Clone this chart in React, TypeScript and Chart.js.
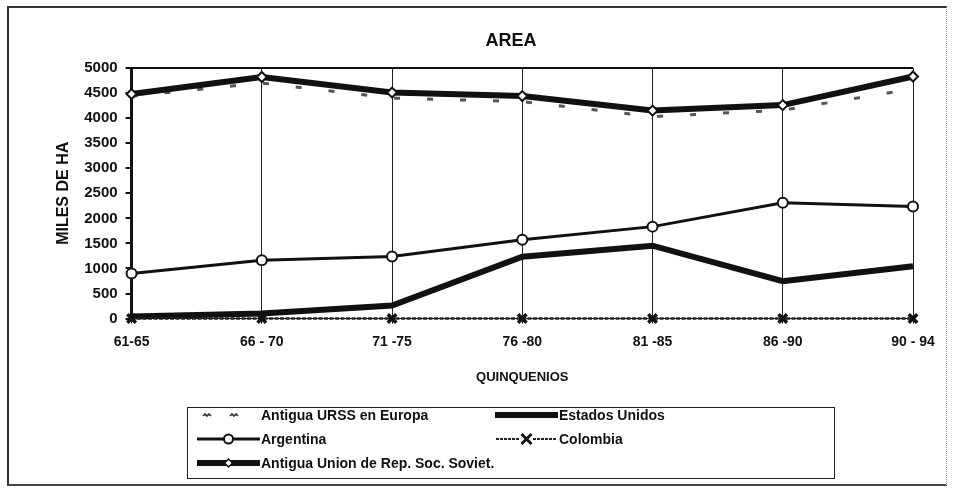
import React, { useEffect, useRef } from "react";
import { Chart, registerables } from "chart.js";

Chart.register(...registerables);

const categories = ["61-65", "66 - 70", "71 -75", "76 -80", "81 -85", "86 -90", "90 - 94"];
const urssEuropa = [4440, 4700, 4400, 4330, 4030, 4160, 4580];
const estadosUnidos = [40, 100, 260, 1235, 1455, 745, 1045];
const argentina = [900, 1165, 1240, 1575, 1835, 2310, 2235];
const colombia = [0, 0, 0, 0, 0, 0, 0];
const antiguaUnion = [4480, 4820, 4510, 4440, 4150, 4260, 4830];
const yMin = 0;
const yMax = 5000;
const yStep = 500;

const FONT = "'Liberation Sans', Arial, Helvetica, sans-serif";

function LegendSample({ kind }: { kind: string }) {
  const w = 63;
  const h = 14;
  const c = h / 2;
  if (kind === "europa") {
    return (
      <svg width={w} height={h}>
        <path d={`M6 ${c + 1} l2 -2 l2 2 l2 -2 l2 2`} stroke="#333" strokeWidth={1.6} fill="none" />
        <path d={`M33 ${c + 1} l2 -2 l2 2 l2 -2 l2 2`} stroke="#333" strokeWidth={1.6} fill="none" />
      </svg>
    );
  }
  if (kind === "eeuu") {
    return (
      <svg width={w} height={h}>
        <line x1={1} y1={c} x2={w - 1} y2={c} stroke="#111" strokeWidth={6} strokeLinecap="round" />
      </svg>
    );
  }
  if (kind === "argentina") {
    return (
      <svg width={w} height={h}>
        <line x1={1} y1={c} x2={w - 1} y2={c} stroke="#111" strokeWidth={3} strokeLinecap="round" />
        <circle cx={w / 2} cy={c} r={4.5} fill="#fff" stroke="#111" strokeWidth={2} />
      </svg>
    );
  }
  if (kind === "colombia") {
    return (
      <svg width={w} height={h}>
        <line x1={1} y1={c} x2={24} y2={c} stroke="#222" strokeWidth={2} strokeDasharray="3 1" />
        <line x1={38} y1={c} x2={w - 1} y2={c} stroke="#222" strokeWidth={2} strokeDasharray="3 1" />
        <path d={`M${w / 2 - 5} ${c - 5} L${w / 2 + 5} ${c + 5} M${w / 2 + 5} ${c - 5} L${w / 2 - 5} ${c + 5}`} stroke="#111" strokeWidth={3} />
      </svg>
    );
  }
  return (
    <svg width={w} height={h}>
      <line x1={1} y1={c} x2={w - 1} y2={c} stroke="#111" strokeWidth={6} strokeLinecap="round" />
      <path d={`M${w / 2} ${c - 4} L${w / 2 + 4} ${c} L${w / 2} ${c + 4} L${w / 2 - 4} ${c} Z`} fill="#fff" stroke="#111" strokeWidth={1.5} />
    </svg>
  );
}

function LegendItem({ left, top, kind, label }: { left: number; top: number; kind: string; label: string }) {
  return (
    <div
      style={{
        position: "absolute",
        left,
        top,
        height: 16,
        display: "flex",
        alignItems: "center",
        whiteSpace: "nowrap",
        fontFamily: FONT,
        fontWeight: "bold",
        fontSize: 14,
        color: "#111",
      }}
    >
      <LegendSample kind={kind} />
      <span style={{ marginLeft: 1 }}>{label}</span>
    </div>
  );
}

export default function App() {
  const canvasRef = useRef<HTMLCanvasElement | null>(null);

  useEffect(() => {
    const canvas = canvasRef.current;
    if (!canvas) return;
    const chart = new Chart(canvas, {
      type: "line",
      data: {
        labels: categories,
        datasets: [
          {
            label: "Antigua URSS en Europa",
            data: urssEuropa,
            borderColor: "#555",
            borderWidth: 3,
            borderDash: [6, 27],
            pointRadius: 0,
            fill: false,
            order: 4,
            clip: false,
          },
          {
            label: "Estados Unidos",
            data: estadosUnidos,
            borderColor: "#111",
            borderWidth: 6,
            pointRadius: 0,
            fill: false,
            order: 3,
            clip: false,
          },
          {
            label: "Argentina",
            data: argentina,
            borderColor: "#111",
            borderWidth: 3,
            pointStyle: "circle",
            pointRadius: 5,
            pointBackgroundColor: "#fff",
            pointBorderColor: "#111",
            pointBorderWidth: 2,
            fill: false,
            order: 1,
            clip: false,
          },
          {
            label: "Colombia",
            data: colombia,
            borderColor: "#222",
            borderWidth: 2.5,
            borderDash: [4, 1.5],
            pointStyle: "crossRot",
            pointRadius: 6,
            pointBorderColor: "#111",
            pointBorderWidth: 3.5,
            fill: false,
            order: 2,
            clip: false,
          },
          {
            label: "Antigua Union de Rep. Soc. Soviet.",
            data: antiguaUnion,
            borderColor: "#111",
            borderWidth: 6,
            pointStyle: "rectRot",
            pointRadius: 5,
            pointBackgroundColor: "#fff",
            pointBorderColor: "#111",
            pointBorderWidth: 2,
            fill: false,
            order: 0,
            clip: false,
          },
        ],
      },
      options: {
        responsive: false,
        animation: false,
        devicePixelRatio: 1,
        layout: { padding: { left: 46, right: 35, top: 61, bottom: 102 } },
        plugins: {
          legend: { display: false },
          tooltip: { enabled: false },
          title: { display: false },
        },
        scales: {
          x: {
            type: "category",
            offset: false,
            grid: {
              display: true,
              color: "#222",
              lineWidth: 1,
              tickLength: 5,
              tickColor: "#111",
            },
            border: { display: true, color: "#111", width: 1 },
            ticks: {
              color: "#111",
              padding: 10,
              maxRotation: 0,
              autoSkip: false,
              font: { family: FONT, size: 14, weight: "bold" },
            },
            title: {
              display: true,
              text: "QUINQUENIOS",
              color: "#111",
              font: { family: FONT, size: 13, weight: "bold" },
              padding: { top: 9, bottom: 0 },
            },
          },
          y: {
            min: yMin,
            max: yMax,
            grid: {
              display: true,
              color: (ctx: any) => (ctx.tick && ctx.tick.value === yMax ? "#111" : "rgba(0,0,0,0)"),
              lineWidth: 2,
              tickLength: 6,
              tickColor: "#111",
            },
            border: { display: true, color: "#111", width: 3 },
            ticks: {
              stepSize: yStep,
              color: "#111",
              padding: 8,
              font: { family: FONT, size: 15, weight: "bold" },
              callback: (v: any) => String(v),
            },
            title: {
              display: true,
              text: "MILES DE HA",
              color: "#111",
              font: { family: FONT, size: 16, weight: "bold" },
              padding: { top: 0, bottom: 3 },
            },
          },
        },
      },
    });
    return () => chart.destroy();
  }, []);

  return (
    <div style={{ position: "absolute", left: 0, top: 0, width: 961, height: 500, background: "#fff" }}>
      <div
        style={{
          position: "absolute",
          left: 7,
          top: 6,
          width: 940,
          height: 480,
          borderTop: "2px solid #333",
          borderLeft: "2px solid #333",
          borderBottom: "2px solid #444",
          borderRight: "1px dotted #999",
          boxSizing: "border-box",
        }}
      />
      <canvas
        ref={canvasRef}
        width={940}
        height={480}
        style={{ position: "absolute", left: 8, top: 7, width: 940, height: 480 }}
      />
      <div
        style={{
          position: "absolute",
          left: 461,
          top: 29,
          width: 100,
          textAlign: "center",
          fontFamily: FONT,
          fontWeight: "bold",
          fontSize: 18,
          lineHeight: "22px",
          color: "#111",
        }}
      >
        AREA
      </div>
      <div
        style={{
          position: "absolute",
          left: 187,
          top: 407,
          width: 648,
          height: 72,
          border: "1.5px solid #222",
          boxSizing: "border-box",
        }}
      />
      <LegendItem left={197} top={407} kind="europa" label="Antigua URSS en Europa" />
      <LegendItem left={495} top={407} kind="eeuu" label="Estados Unidos" />
      <LegendItem left={197} top={431} kind="argentina" label="Argentina" />
      <LegendItem left={495} top={431} kind="colombia" label="Colombia" />
      <LegendItem left={197} top={455} kind="ussr" label="Antigua Union de Rep. Soc. Soviet." />
    </div>
  );
}
